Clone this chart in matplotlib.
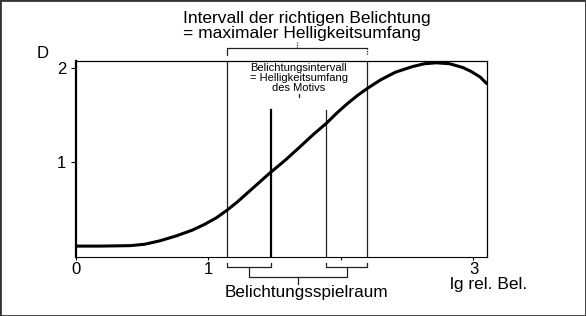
import matplotlib
matplotlib.use("Agg")
import matplotlib.pyplot as plt
from matplotlib.patches import Rectangle

plt.rcParams['font.family'] = ['Liberation Sans', 'DejaVu Sans']

# density curve
lg_bel = [0.0, 0.18, 0.41, 0.52, 0.63, 0.75, 0.88, 0.97, 1.06, 1.14, 1.22, 1.30,
          1.38, 1.46, 1.58, 1.69, 1.79, 1.89, 1.97, 2.05, 2.13, 2.20, 2.30, 2.41,
          2.54, 2.63, 2.72, 2.82, 2.92, 2.98, 3.05, 3.10]
density = [0.11, 0.11, 0.115, 0.13, 0.165, 0.215, 0.28, 0.34, 0.41, 0.49, 0.58, 0.68,
           0.78, 0.88, 1.02, 1.16, 1.29, 1.41, 1.52, 1.62, 1.71, 1.78, 1.87, 1.95,
           2.01, 2.04, 2.05, 2.04, 2.00, 1.96, 1.90, 1.83]

interval = [1.14, 2.20]      # Intervall der richtigen Belichtung
motiv = [1.47, 1.89]         # Belichtungsintervall des Motivs
motiv_top = 1.55

x_ticks = [0, 1, 2, 3]
x_labels = ['0', '1', '', '3']
y_ticks = [1, 2]
y_labels = ['1', '2']

W, H = 586, 316
fig = plt.figure(figsize=(W / 100, H / 100), dpi=100)
ax = fig.add_axes([76 / W, 1 - 256.5 / H, 411.5 / W, 195.5 / H])
ax.set_xlim(0, 3.106)
ax.set_ylim(0, 2.069)

ax.plot(lg_bel, density, color='black', lw=2.2, solid_capstyle='round',
        solid_joinstyle='round', zorder=5)

# vertical marker lines
for xv in interval:
    ax.plot([xv, xv], [0, 2.069], color='#222222', lw=0.9)
ax.plot([motiv[0], motiv[0]], [0, motiv_top], color='black', lw=1.6)
ax.plot([motiv[1], motiv[1]], [0, motiv_top], color='#222222', lw=0.9)

# spines
for s in ['top', 'right']:
    ax.spines[s].set_linewidth(0.9)
ax.spines['left'].set_linewidth(1.6)
ax.spines['bottom'].set_linestyle((0, (2, 1)))
ax.spines['bottom'].set_linewidth(0.8)

ax.set_xticks(x_ticks)
ax.set_xticklabels(x_labels, fontsize=12)
ax.set_yticks(y_ticks)
ax.set_yticklabels(y_labels, fontsize=12)
ax.tick_params(axis='x', length=2.5, width=0.8, pad=1.5)
ax.tick_params(axis='y', length=3.5, width=0.8, pad=3.5)

kw = dict(color='#222222', lw=0.9, clip_on=False)
# top bracket
ax.plot([interval[0], interval[0], interval[1]], [2.132, 2.206, 2.206], **kw)
ax.plot([interval[1], interval[1]], [2.206, 2.132], color='#222222', lw=0.9,
        ls=(0, (1, 1)), clip_on=False)
ax.plot([1.67, 1.67], [2.206, 2.27], color='#222222', lw=0.9, ls=(0, (1, 1)),
        clip_on=False)

# small brackets under the axis
for a, b in [(interval[0], motiv[0]), (motiv[1], interval[1])]:
    ax.plot([a, a, b, b], [-0.069, -0.111, -0.111, -0.069], **kw)
m1 = (interval[0] + motiv[0]) / 2
m2 = (motiv[1] + interval[1]) / 2
ax.plot([m1, m1, m2, m2], [-0.111, -0.217, -0.217, -0.111], **kw)
ax.plot([(m1 + m2) / 2] * 2, [-0.217, -0.29], **kw)

# small mark under the inner text
ax.plot([1.68, 1.68], [1.69, 1.72], **kw)

ax.text(1.68, 1.89, 'Belichtungsintervall\n= Helligkeitsumfang\ndes Motivs',
        ha='center', va='center', fontsize=8, linespacing=1.0)

fig.text(183 / W, 1 - 18.5 / H, 'Intervall der richtigen Belichtung',
         ha='left', va='center', fontsize=12.5)
fig.text(183 / W, 1 - 33.5 / H, '= maximaler Helligkeitsumfang',
         ha='left', va='center', fontsize=12.5)
fig.text(306 / W, 1 - 292 / H, 'Belichtungsspielraum', ha='center', va='center',
         fontsize=12.3)
fig.text(489 / W, 1 - 284 / H, 'lg rel. Bel.', ha='center', va='center', fontsize=12.5)
fig.text(43 / W, 1 - 53 / H, 'D', ha='center', va='center', fontsize=12)

fig.patches.append(Rectangle((0, 0), 1, 1, transform=fig.transFigure, fill=False,
                             edgecolor='#333333', lw=2.0))

fig.savefig('out.png', dpi=100)
